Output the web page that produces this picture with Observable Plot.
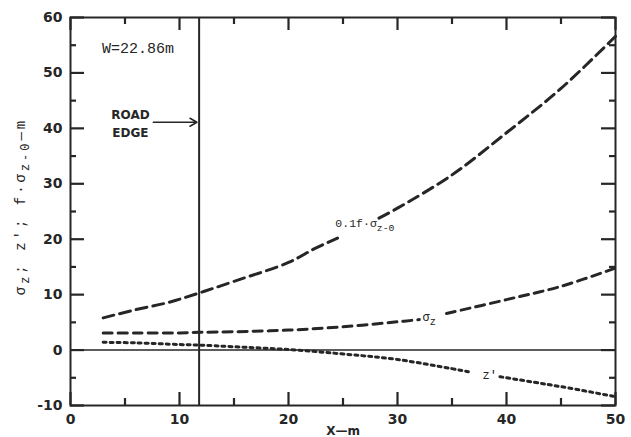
<!DOCTYPE html>
<html><head><meta charset="utf-8">
<script src="https://cdn.jsdelivr.net/npm/d3@7"></script>
<script src="https://cdn.jsdelivr.net/npm/@observablehq/plot@0.6"></script>
<style>body{margin:0;background:#fff}</style>
</head><body><div id="chart"></div>
<script>
// tick values
const xMajorTicks = [0, 10, 20, 30, 40, 50];
const xMinorTicks = [5, 15, 25, 35, 45];
const yMajorTicks = [-10, 0, 10, 20, 30, 40, 50, 60];
const yMinorTicks = [-5, 5, 15, 25, 35, 45, 55];

// 0.1 f·σz-0 (null = gap under label)
const fSigmaX = [3, 6, 9, 11.8, 15, 20, 22.3, 24.5, null, 28.3, 30, 35, 40, 45, 50];
const fSigmaY = [5.8, 7.3, 8.6, 10.3, 12.4, 15.8, 18.2, 20.2, null, 23.8, 25.6, 31.6, 39.2, 47.2, 56.6];
// σz
const sigmaX = [3, 6, 10, 11.8, 15, 20, 25, 30, 32, null, 34.5, 40, 45, 50];
const sigmaY = [3.1, 3.1, 3.1, 3.2, 3.3, 3.6, 4.2, 5.1, 5.5, null, 6.6, 9.1, 11.5, 14.8];
// z'
const zPrimeX = [3, 6, 10, 11.8, 15, 20, 25, 30, 36.5, null, 39.4, 42.5, 45, 50];
const zPrimeY = [1.4, 1.3, 1.0, 0.9, 0.6, 0.1, -0.7, -1.7, -3.9, null, -4.8, -5.8, -6.6, -8.4];

const roadEdgeX = 11.8;

const toRows = (xs, ys) => xs.map((x, i) => ({x, y: ys[i]}));
const ink = "#262626";
const fmt = d => d < 0 ? "-" + Math.abs(d) : String(d);

const W = 631, H = 437, mL = 70, mR = 16, mT = 17, mB = 32;
const fw = W - mL - mR, fh = H - mT - mB;

const chart = Plot.plot({
  width: W, height: H,
  marginLeft: mL, marginRight: mR, marginTop: mT, marginBottom: mB,
  style: {fontFamily: "DejaVu Sans", color: ink, background: "#fff"},
  x: {domain: [0, 50]},
  y: {domain: [-10, 60]},
  marks: [
    Plot.ruleY([0], {stroke: ink, strokeWidth: 1.6}),
    Plot.ruleX([roadEdgeX], {stroke: ink, strokeWidth: 2}),
    Plot.line(toRows(fSigmaX, fSigmaY), {x: "x", y: "y", stroke: ink, strokeWidth: 3, strokeDasharray: "11,6", curve: "catmull-rom"}),
    Plot.line(toRows(sigmaX, sigmaY), {x: "x", y: "y", stroke: ink, strokeWidth: 3, strokeDasharray: "9,6", curve: "catmull-rom"}),
    Plot.line(toRows(zPrimeX, zPrimeY), {x: "x", y: "y", stroke: ink, strokeWidth: 3, strokeDasharray: "3,4", curve: "catmull-rom"}),
    Plot.frame({stroke: ink, strokeWidth: 2}),
    // inward ticks on all four sides
    Plot.tickX(xMajorTicks, {x: d => d, insetTop: fh - 13, stroke: ink, strokeWidth: 2.2}),
    Plot.tickX(xMinorTicks, {x: d => d, insetTop: fh - 7, stroke: ink, strokeWidth: 2.2}),
    Plot.tickX(xMajorTicks, {x: d => d, insetBottom: fh - 13, stroke: ink, strokeWidth: 2.2}),
    Plot.tickX(xMinorTicks, {x: d => d, insetBottom: fh - 7, stroke: ink, strokeWidth: 2.2}),
    Plot.tickY(yMajorTicks, {y: d => d, insetRight: fw - 14, stroke: ink, strokeWidth: 2.2}),
    Plot.tickY(yMinorTicks, {y: d => d, insetRight: fw - 6, stroke: ink, strokeWidth: 2.2}),
    Plot.tickY(yMajorTicks, {y: d => d, insetLeft: fw - 14, stroke: ink, strokeWidth: 2.2}),
    Plot.tickY(yMinorTicks, {y: d => d, insetLeft: fw - 6, stroke: ink, strokeWidth: 2.2}),
    Plot.axisX(xMajorTicks, {anchor: "bottom", tickSize: 0, tickPadding: 9, fontSize: 14, fontWeight: "bold", label: null}),
    Plot.axisY(yMajorTicks, {anchor: "left", tickSize: 0, tickPadding: 8, tickFormat: fmt, fontSize: 14, fontWeight: "bold", label: null}),
    Plot.text(["σ{z}; z'; f·σ{z-0}—m"], {frameAnchor: "left", textAnchor: "middle", rotate: -90, dx: -50, dy: -5, fontFamily: "Liberation Mono", fontSize: 14, fill: ink, className: "ylab"}),
    Plot.text(["X—m"], {frameAnchor: "bottom", dy: 21, lineAnchor: "top", fontSize: 12, fontWeight: "bold", fill: ink}),
    Plot.text([{x: 2.9, y: 54.4, t: "W=22.86m"}], {x: "x", y: "y", text: "t", textAnchor: "start", fontFamily: "Liberation Mono", fontSize: 15, fill: ink}),
    Plot.text([{x: 5.5, y: 41.1, t: "ROAD\nEDGE"}], {x: "x", y: "y", text: "t", fontSize: 12, fontWeight: "bold", lineHeight: 1.45, fill: ink}),
    Plot.arrow([{x1: 7.6, x2: 11.6, y: 41.1}], {x1: "x1", x2: "x2", y1: "y", y2: "y", stroke: ink, strokeWidth: 1.5, headLength: 8}),
    Plot.text([{x: 24.3, y: 22.8, t: "0.1f·σ{z-0}"}], {x: "x", y: "y", text: "t", textAnchor: "start", fontFamily: "Liberation Mono", fontSize: 11.5, fill: ink}),
    Plot.text([{x: 32.3, y: 5.9, t: "σ{z}"}], {x: "x", y: "y", text: "t", textAnchor: "start", fontFamily: "Liberation Mono", fontSize: 12, fill: ink}),
    Plot.text([{x: 37.8, y: -4.5, t: "z'"}], {x: "x", y: "y", text: "t", textAnchor: "start", fontFamily: "Liberation Mono", fontSize: 12, fill: ink})
  ]
});

// subscripts written as {...}
chart.querySelectorAll("text").forEach(t => {
  if (t.querySelector("tspan")) return;
  const s = t.textContent;
  if (!s.includes("{")) return;
  const parts = s.split(/(\{[^}]*\})/).filter(p => p);
  t.textContent = "";
  let shifted = false;
  for (const p of parts) {
    const ts = document.createElementNS("http://www.w3.org/2000/svg", "tspan");
    if (p.startsWith("{")) {
      ts.textContent = p.slice(1, -1);
      ts.setAttribute("dy", "4");
      ts.setAttribute("font-size", "0.85em");
      shifted = true;
    } else {
      ts.textContent = p;
      if (shifted) { ts.setAttribute("dy", "-4"); shifted = false; }
    }
    t.appendChild(ts);
  }
});
chart.querySelectorAll(".ylab text").forEach(t => t.setAttribute("letter-spacing", "3"));

document.getElementById("chart").appendChild(chart);
</script>
</body></html>
